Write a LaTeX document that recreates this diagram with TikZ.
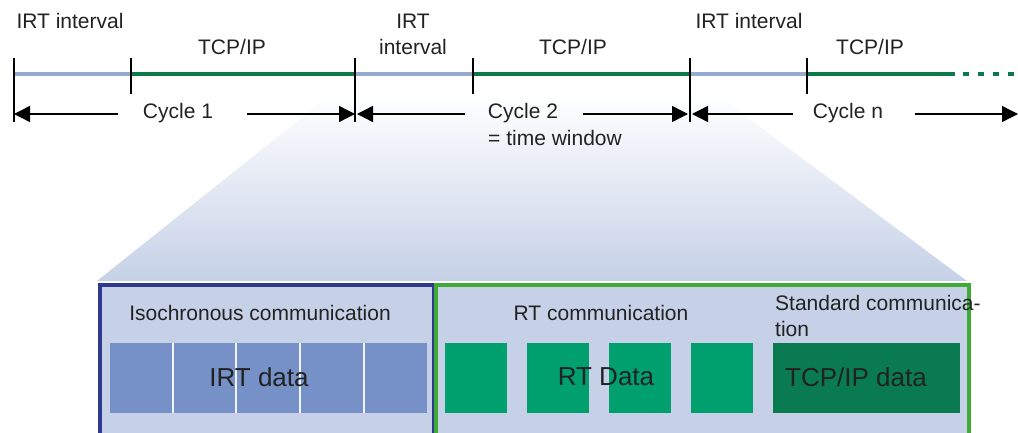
\documentclass[tikz,border=0pt]{standalone}
\usepackage{fontspec}
\setmainfont{Liberation Sans}
\usetikzlibrary{arrows.meta}

\definecolor{irtline}{HTML}{96AAD0}
\definecolor{tcpline}{HTML}{0B7A4B}
\definecolor{panelblue}{HTML}{C6D1E7}
\definecolor{irtframe}{HTML}{2E3A8E}
\definecolor{rtframe}{HTML}{3FAA35}
\definecolor{irtcell}{HTML}{7690C8}
\definecolor{rtcell}{HTML}{00A06E}
\definecolor{tcpcell}{HTML}{0A7A50}
\definecolor{inktext}{HTML}{222222}

\tikzset{
  lbl/.style={font=\fontsize{21}{26}\selectfont, inner sep=0pt, text=inktext},
  biglbl/.style={font=\fontsize{26}{30}\selectfont, inner sep=0pt, text=inktext},
  irtseg/.style={irtline, line width=4pt},
  tcpseg/.style={tcpline, line width=4pt},
  tickmark/.style={line width=1.4pt},
  cyclearrow/.style={line width=1.4pt, -{Triangle[length=16pt,width=16pt]}},
  frame/.style={line width=3.5pt, fill=panelblue, anchor=north west, inner sep=0pt},
}

\begin{document}
\begin{tikzpicture}[x=1pt,y=-1pt]
\useasboundingbox (0,0) rectangle (1018,433);

% zoom funnel from cycle 2 down to the detail
\shade[top color=white, bottom color=panelblue] (330,95) -- (717,95) -- (967,281) -- (97,281) -- cycle;

% time line
\coordinate (t0) at (14,74);
\coordinate (t1) at (131,74);
\coordinate (t2) at (355,74);
\coordinate (t3) at (473,74);
\coordinate (t4) at (690,74);
\coordinate (t5) at (807,74);
\coordinate (t6) at (955,74);
\coordinate (tend) at (1018,74);
\draw[irtseg] (t0) -- (t1);
\draw[tcpseg] (t1) -- (t2);
\draw[irtseg] (t2) -- (t3);
\draw[tcpseg] (t3) -- (t4);
\draw[irtseg] (t4) -- (t5);
\draw[tcpseg] (t5) -- (t6);
\draw[tcpseg, dash pattern=on 6pt off 9pt, dash phase=7pt] (t6) -- (tend);

% ticks
\foreach \t in {t0,t2,t4} \draw[tickmark] (\t) ++(0,-16) -- ++(0,64);
\foreach \t in {t1,t3,t5} \draw[tickmark] (\t) ++(0,-16) -- ++(0,36);

% interval labels
\node[lbl] (irt1) at (70,21) {IRT interval};
\node[lbl] (tcp1) at (232,47) {TCP/IP};
\node[lbl, align=center] (irt2) at (413,34) {IRT\\interval};
\node[lbl] (tcp2) at (573,47) {TCP/IP};
\node[lbl] (irtn) at (749,21) {IRT interval};
\node[lbl] (tcpn) at (870,47) {TCP/IP};

% cycles
\node[lbl] (cyc1) at (178,113) {Cycle 1};
\node[lbl] (cyc2) at (523,113) {Cycle 2};
\node[lbl, anchor=west] (window) at (488,138) {= time window};
\node[lbl] (cycn) at (848,113) {Cycle n};
\coordinate (c1l) at (14,114);
\coordinate (c1r) at (355,114);
\coordinate (c2l) at (357,114);
\coordinate (c2r) at (688,114);
\coordinate (cnl) at (692,114);
\coordinate (cnr) at (1018,114);
\draw[cyclearrow] (118,114) -- (c1l);
\draw[cyclearrow] (247,114) -- (c1r);
\draw[cyclearrow] (465,114) -- (c2l);
\draw[cyclearrow] (583,114) -- (c2r);
\draw[cyclearrow] (793,114) -- (cnl);
\draw[cyclearrow] (915,114) -- (cnr);

% detail of one cycle
\node[frame, draw=irtframe, minimum width=334pt, minimum height=160pt] (isobox) at (98,283) {};
\node[frame, draw=rtframe, minimum width=533pt, minimum height=160pt] (rtbox) at (434,283) {};

\fill[irtcell] (110,343) rectangle (427,413);
\foreach \x in {173,236,300,364}
  \draw[white!75!panelblue, line width=1.5pt] (\x,343) -- (\x,413);
\foreach \x in {445,527,609,691}
  \fill[rtcell] (\x,343) rectangle ++(62,70);
\fill[tcpcell] (773,343) rectangle (960,413);

\node[lbl] (isotext) at (260,313) {Isochronous communication};
\node[lbl] (rttext) at (601,313) {RT communication};
\node[lbl, anchor=west, align=left] (stdtext) at (775,316) {Standard communica-\\tion};
\node[biglbl] (irtdata) at (259,377) {IRT data};
\node[biglbl] (rtdata) at (606,377) {RT Data};
\node[biglbl] (tcpdata) at (856,377) {TCP/IP data};
\end{tikzpicture}
\end{document}
